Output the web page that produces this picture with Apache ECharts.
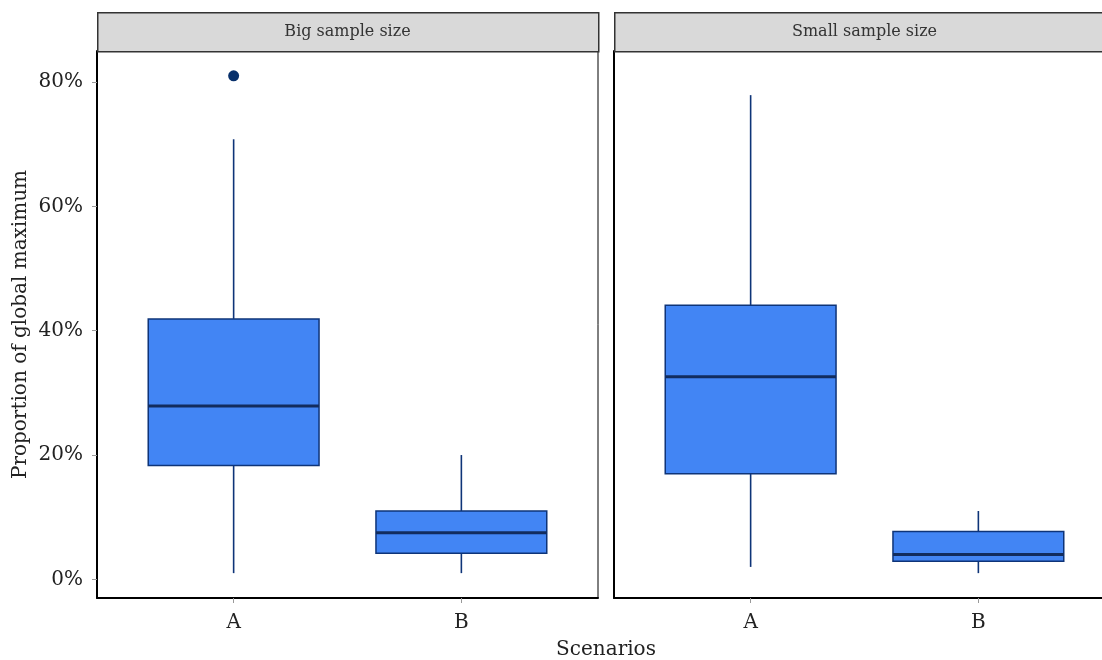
<!DOCTYPE html>
<html>
<head>
<meta charset="utf-8">
<script src="https://cdn.jsdelivr.net/npm/echarts@6/dist/echarts.min.js"></script>
<style>
  html, body { margin: 0; padding: 0; background: #fff; }
  #chart { width: 1102px; height: 660px; }
</style>
</head>
<body>
<div id="chart"></div>
<script>
// Scenarios on the x axis and the two facets
const scenarios = ['A', 'B'];
const facets = ['Big sample size', 'Small sample size'];

// Box statistics (percent of global maximum), one entry per scenario
const bigLow = [1.0, 1.0];
const bigQ1 = [18.3, 4.2];
const bigMedian = [27.9, 7.5];
const bigQ3 = [41.9, 11.0];
const bigHigh = [70.8, 20.0];
const bigOutliers = [['A', 81.0]];

const smallLow = [2.0, 1.0];
const smallQ1 = [17.0, 2.9];
const smallMedian = [32.6, 4.0];
const smallQ3 = [44.1, 7.7];
const smallHigh = [77.9, 11.0];
const smallOutliers = [];

const yTicks = [0, 20, 40, 60, 80];

const FONT = 'DejaVu Serif';
const BOX_FILL = '#4285F4';
const BOX_LINE = '#0E3478';
const MEDIAN_LINE = '#122C5E';
const BOX_WIDTH = 0.75;

function boxRows(low, q1, med, q3, high) {
  return scenarios.map((s, i) => [i + 1, low[i], q1[i], med[i], q3[i], high[i]]);
}
function outlierRows(list) {
  return list.map(([s, v]) => [scenarios.indexOf(s) + 1, v]);
}

function renderBox(params, api) {
  const x = api.value(0);
  const pt = (v) => api.coord([x, v]);
  const half = api.size([BOX_WIDTH, 0])[0] / 2;
  const lo = pt(api.value(1)), q1 = pt(api.value(2)), md = pt(api.value(3)),
        q3 = pt(api.value(4)), hi = pt(api.value(5));
  const cx = lo[0];
  const lineStyle = { stroke: BOX_LINE, lineWidth: 1.6 };
  return {
    type: 'group',
    children: [
      { type: 'line', shape: { x1: cx, y1: lo[1], x2: cx, y2: q1[1] }, style: lineStyle },
      { type: 'line', shape: { x1: cx, y1: q3[1], x2: cx, y2: hi[1] }, style: lineStyle },
      { type: 'rect', shape: { x: cx - half, y: q3[1], width: half * 2, height: q1[1] - q3[1] },
        style: { fill: BOX_FILL, stroke: BOX_LINE, lineWidth: 1.5 } },
      { type: 'line', shape: { x1: cx - half, y1: md[1], x2: cx + half, y2: md[1] },
        style: { stroke: MEDIAN_LINE, lineWidth: 3 } }
    ]
  };
}

const PANEL_LEFT = [97, 614];
const PANEL_W = 501;
const PANEL_TOP = 51;
const PANEL_H = 547;
const STRIP_TOP = 12;

const chart = echarts.init(document.getElementById('chart'), null, { renderer: 'canvas' });

const grids = PANEL_LEFT.map(l => ({
  left: l, top: PANEL_TOP, width: PANEL_W, height: PANEL_H,
  outerBoundsMode: 'none', containLabel: false,
  show: true, borderColor: '#000', borderWidth: 1, backgroundColor: '#fff'
}));

const xAxes = PANEL_LEFT.map((l, i) => ({
  type: 'value', gridIndex: i, min: 0.4, max: 2.6,
  splitLine: { show: false },
  axisLine: { show: true, onZero: false, lineStyle: { color: '#000', width: 2 } },
  axisTick: { show: true, customValues: [1, 2], length: 5, lineStyle: { color: '#999', width: 1 } },
  axisLabel: {
    customValues: [1, 2], margin: 15,
    formatter: (v) => scenarios[Math.round(v) - 1],
    fontFamily: FONT, fontSize: 20, color: '#222'
  }
}));

const yAxes = PANEL_LEFT.map((l, i) => ({
  type: 'value', gridIndex: i, min: -3, max: 85,
  splitLine: { show: false },
  axisLine: { show: true, onZero: false, lineStyle: { color: '#000', width: 2 } },
  axisTick: { show: i === 0, customValues: yTicks, length: 5, lineStyle: { color: '#999', width: 1 } },
  axisLabel: {
    show: i === 0, customValues: yTicks, margin: 14,
    formatter: (v) => v + '%',
    fontFamily: FONT, fontSize: 20, color: '#222'
  },
  name: i === 0 ? 'Proportion of global maximum' : '',
  nameLocation: 'middle', nameRotate: 90, nameGap: 66,
  nameTextStyle: { fontFamily: FONT, fontSize: 20, color: '#222' }
}));

const boxData = [
  boxRows(bigLow, bigQ1, bigMedian, bigQ3, bigHigh),
  boxRows(smallLow, smallQ1, smallMedian, smallQ3, smallHigh)
];
const outData = [outlierRows(bigOutliers), outlierRows(smallOutliers)];

const series = [];
facets.forEach((f, i) => {
  series.push({
    type: 'custom', xAxisIndex: i, yAxisIndex: i,
    renderItem: renderBox, data: boxData[i], clip: true,
    encode: { x: 0, y: [1, 2, 3, 4, 5] }
  });
  series.push({
    type: 'scatter', xAxisIndex: i, yAxisIndex: i,
    data: outData[i], symbolSize: 11,
    itemStyle: { color: '#08306B', opacity: 1 }
  });
});

// Facet strips and the shared x axis title
const graphics = [];
facets.forEach((f, i) => {
  graphics.push({
    type: 'rect', left: PANEL_LEFT[i], top: STRIP_TOP, z: 10,
    shape: { width: PANEL_W, height: PANEL_TOP - STRIP_TOP },
    style: { fill: '#D9D9D9', stroke: '#333', lineWidth: 1.5 }
  });
  graphics.push({
    type: 'text', z: 11,
    x: PANEL_LEFT[i] + PANEL_W / 2, y: (STRIP_TOP + PANEL_TOP) / 2,
    style: { text: f, fontFamily: FONT, fontSize: 16, fill: '#333', align: 'center', verticalAlign: 'middle' }
  });
});
graphics.push({
  type: 'text', z: 11,
  x: (PANEL_LEFT[0] + PANEL_LEFT[1] + PANEL_W) / 2, y: 650,
  style: { text: 'Scenarios', fontFamily: FONT, fontSize: 20, fill: '#222', align: 'center', verticalAlign: 'middle' }
});

chart.setOption({
  animation: false,
  backgroundColor: '#fff',
  grid: grids,
  xAxis: xAxes,
  yAxis: yAxes,
  series: series,
  graphic: graphics
});
</script>
</body>
</html>
